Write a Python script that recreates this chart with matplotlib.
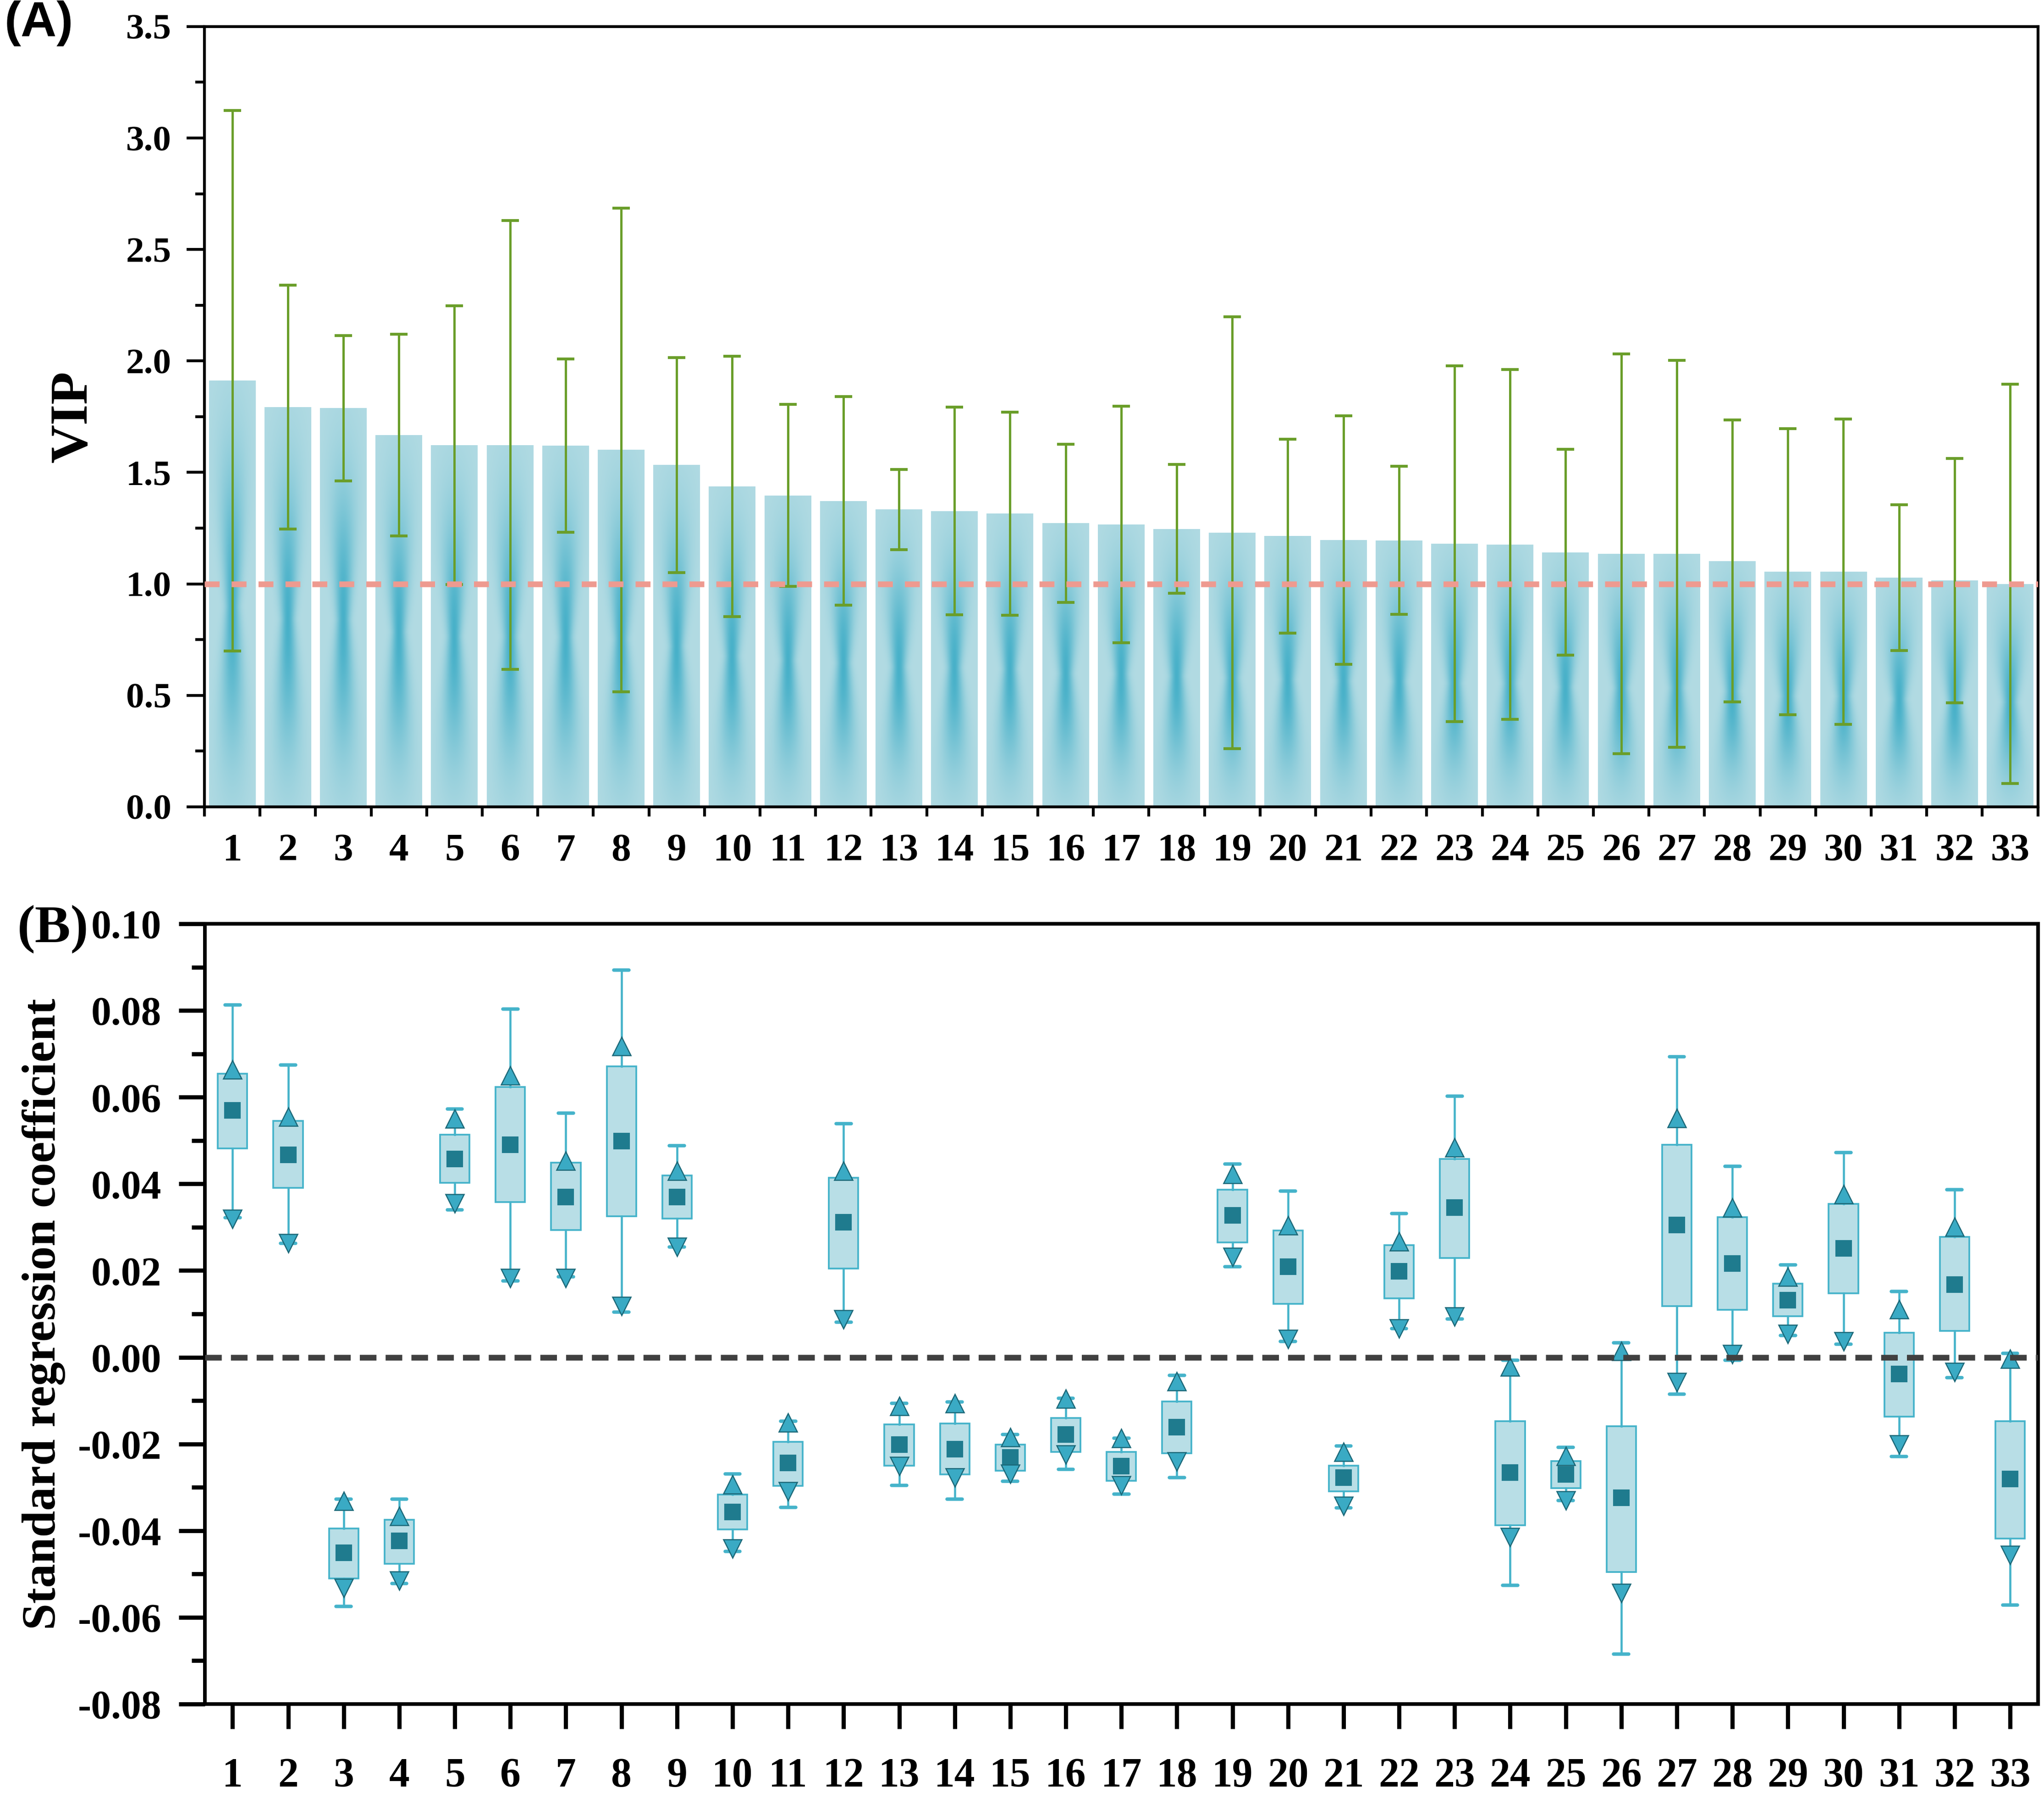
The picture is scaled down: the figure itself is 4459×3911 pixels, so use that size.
import numpy as np
import matplotlib
matplotlib.use("Agg")
from matplotlib import pyplot as plt
from matplotlib.ticker import FormatStrFormatter, MultipleLocator

plt.rcParams['font.family'] = ['Liberation Serif', 'DejaVu Serif']
plt.rcParams['font.weight'] = 'bold'
plt.rcParams['axes.unicode_minus'] = False

# ---------------- data ----------------
var_id = np.arange(1, 34)

# (A) VIP mean and sd
vip = [1.912, 1.793, 1.788, 1.668, 1.623, 1.623, 1.620, 1.601, 1.533, 1.437, 1.397,
       1.372, 1.334, 1.327, 1.315, 1.272, 1.267, 1.247, 1.230, 1.215, 1.197, 1.195,
       1.180, 1.177, 1.142, 1.135, 1.135, 1.103, 1.055, 1.055, 1.028, 1.015, 1.000]
vip_sd = [1.212, 0.546, 0.326, 0.452, 0.625, 1.006, 0.388, 1.084, 0.482, 0.584, 0.409,
          0.468, 0.180, 0.466, 0.455, 0.354, 0.531, 0.289, 0.968, 0.435, 0.557, 0.332,
          0.798, 0.785, 0.461, 0.896, 0.868, 0.633, 0.641, 0.685, 0.326, 0.548, 0.896]

# (B) standard regression coefficient distribution
whis_hi = [0.0813, 0.0674, -0.0327, -0.0327, 0.0573, 0.0803, 0.0563, 0.0893, 0.0488, -0.0269, -0.0147,
           0.0539, -0.0106, -0.0103, -0.0178, -0.0095, -0.0187, -0.0042, 0.0446, 0.0383, -0.0205, 0.0332,
           0.0602, -0.0007, -0.0208, 0.0033, 0.0693, 0.0440, 0.0213, 0.0472, 0.0152, 0.0387, 0.0009]
p99 = [0.0664, 0.0555, -0.0332, -0.0366, 0.0550, 0.0650, 0.0453, 0.0718, 0.0430, -0.0293, -0.0151,
       0.0430, -0.0113, -0.0106, -0.0184, -0.0096, -0.0187, -0.0056, 0.0423, 0.0304, -0.0218, 0.0267,
       0.0484, -0.0022, -0.0228, 0.0014, 0.0552, 0.0345, 0.0186, 0.0376, 0.0111, 0.0301, -0.0004]
q3 = [0.0654, 0.0545, -0.0395, -0.0375, 0.0513, 0.0623, 0.0449, 0.0671, 0.0419, -0.0317, -0.0195,
      0.0414, -0.0155, -0.0153, -0.0201, -0.0140, -0.0218, -0.0102, 0.0387, 0.0292, -0.0250, 0.0259,
      0.0457, -0.0147, -0.0239, -0.0159, 0.0490, 0.0323, 0.0170, 0.0354, 0.0057, 0.0278, -0.0147]
coef_mean = [0.0569, 0.0467, -0.0451, -0.0424, 0.0457, 0.0490, 0.0370, 0.0499, 0.0370, -0.0357, -0.0244,
             0.0311, -0.0201, -0.0212, -0.0231, -0.0178, -0.0251, -0.0161, 0.0327, 0.0209, -0.0278, 0.0198,
             0.0345, -0.0266, -0.0270, -0.0324, 0.0305, 0.0216, 0.0132, 0.0251, -0.0039, 0.0168, -0.0281]
q1 = [0.0482, 0.0391, -0.0510, -0.0476, 0.0402, 0.0358, 0.0294, 0.0325, 0.0320, -0.0397, -0.0297,
      0.0205, -0.0250, -0.0270, -0.0262, -0.0218, -0.0285, -0.0222, 0.0265, 0.0123, -0.0309, 0.0136,
      0.0229, -0.0388, -0.0302, -0.0495, 0.0118, 0.0109, 0.0095, 0.0148, -0.0137, 0.0061, -0.0418]
p1 = [0.0319, 0.0263, -0.0532, -0.0515, 0.0355, 0.0182, 0.0182, 0.0118, 0.0254, -0.0442, -0.0309,
      0.0087, -0.0251, -0.0278, -0.0269, -0.0225, -0.0296, -0.0241, 0.0231, 0.0042, -0.0343, 0.0066,
      0.0094, -0.0415, -0.0330, -0.0544, -0.0058, 0.0007, 0.0053, 0.0037, -0.0201, -0.0034, -0.0456]
whis_lo = [0.0322, 0.0263, -0.0575, -0.0522, 0.0340, 0.0176, 0.0186, 0.0104, 0.0254, -0.0448, -0.0346,
           0.0081, -0.0296, -0.0327, -0.0286, -0.0259, -0.0316, -0.0278, 0.0209, 0.0037, -0.0347, 0.0066,
           0.0088, -0.0526, -0.0330, -0.0685, -0.0085, -0.0007, 0.0050, 0.0030, -0.0229, -0.0047, -0.0572]

# 颜色
bar_base = np.array([0xb2, 0xdb, 0xe3]) / 255
bar_dark = np.array([0x3c, 0xac, 0xc6]) / 255
err_col = "#6a9e2a"
pink = "#ee9a90"
box_face = "#b8dee6"
box_edge = "#45b3ca"
mean_col = "#1f7b8e"
tri_face = "#3aaac4"
tri_edge = "#1b6878"


def bar_gradient(nx=60, ny=240):
    # 沙漏形渐变: 中间深, 上下和两侧浅
    u = np.linspace(-1, 1, nx)[None, :]
    t = np.linspace(0, 1, ny)[:, None]
    sigma = 0.2 + 0.8 * np.abs(t - 0.47)
    env = np.exp(-((t - 0.47) / 0.33) ** 2)
    w = 0.9 * np.exp(-0.5 * (u / sigma) ** 2) * env
    img = bar_base[None, None, :] * (1 - w[..., None]) + bar_dark[None, None, :] * w[..., None]
    return img


fig = plt.figure(figsize=(4459 / 300, 3911 / 300), dpi=300)
axA = fig.add_axes([0.100, 0.550, 0.897, 0.4352])
axB = fig.add_axes([0.1002, 0.0496, 0.8968, 0.4352])

#%% (A) VIP
bw = 0.84
grad = bar_gradient()
bars = axA.bar(var_id, vip, width=bw, color=bar_base, zorder=1)
for b in bars:
    x0, h = b.get_x(), b.get_height()
    im = axA.imshow(grad, extent=(x0, x0 + b.get_width(), 0, h), origin="lower",
                    aspect="auto", interpolation="bilinear", zorder=1.5)
    im.set_clip_path(b)
axA.errorbar(var_id, vip, yerr=vip_sd, fmt="none", ecolor=err_col, elinewidth=1.2,
             capsize=4.6, capthick=1.5, zorder=3)
axA.axhline(1.0, color=pink, lw=3.0, dashes=(2.6, 2.1), zorder=4)

axA.set_xlim(0.5, 33.5)
axA.set_ylim(0, 3.5)
axA.set_xticks(var_id)
axA.set_xticks(np.arange(0.5, 34, 1), minor=True)
axA.tick_params(axis="x", which="major", length=0, pad=14, labelsize=20.5)
axA.tick_params(axis="x", which="minor", length=5, width=1.5, direction="out")
axA.yaxis.set_major_locator(MultipleLocator(0.5))
axA.yaxis.set_minor_locator(MultipleLocator(0.25))
axA.yaxis.set_major_formatter(FormatStrFormatter("%.1f"))
axA.tick_params(axis="y", which="major", length=9.4, width=1.5, pad=8, labelsize=19)
axA.tick_params(axis="y", which="minor", length=4.8, width=1.5)
for s in axA.spines.values():
    s.set_linewidth(1.5)
axA.set_ylabel("VIP", fontsize=28, fontweight="bold")
axA.yaxis.set_label_coords(-0.058, 0.5)

#%% (B) 标准回归系数
stats = []
for i in range(len(var_id)):
    stats.append(dict(med=coef_mean[i], q1=q1[i], q3=q3[i], whislo=whis_lo[i],
                      whishi=whis_hi[i], mean=coef_mean[i], fliers=[]))
axB.bxp(stats, positions=var_id, widths=0.53, patch_artist=True, showmeans=True,
        boxprops=dict(facecolor=box_face, edgecolor=box_edge, linewidth=0.9),
        whiskerprops=dict(color=box_edge, linewidth=1.1),
        capprops=dict(color=box_edge, linewidth=1.8, solid_capstyle="round"),
        capwidths=0.27,
        medianprops=dict(visible=False),
        meanprops=dict(marker="s", markersize=7.5, markerfacecolor=mean_col,
                       markeredgecolor=mean_col),
        zorder=2)
axB.plot(var_id, p99, ls="none", marker="^", ms=9.5, mfc=tri_face, mec=tri_edge, mew=0.6, zorder=3)
axB.plot(var_id, p1, ls="none", marker="v", ms=9.5, mfc=tri_face, mec=tri_edge, mew=0.6, zorder=3)
axB.axhline(0, color="#404040", lw=3, dashes=(2.9, 1.6), zorder=4)

axB.set_xlim(0.5, 33.5)
axB.set_ylim(-0.08, 0.10)
axB.set_xticks(var_id)
axB.set_xticklabels([str(v) for v in var_id])
axB.tick_params(axis="x", which="major", length=13, width=2.2, pad=15, labelsize=21.5)
axB.yaxis.set_major_locator(MultipleLocator(0.02))
axB.yaxis.set_minor_locator(MultipleLocator(0.01))
axB.yaxis.set_major_formatter(FormatStrFormatter("%.2f"))
axB.tick_params(axis="y", which="major", length=13.7, width=2.2, pad=9, labelsize=21)
axB.tick_params(axis="y", which="minor", length=7, width=2.2)
for s in axB.spines.values():
    s.set_linewidth(1.9)
axB.set_ylabel("Standard regression coefficient", fontsize=25, fontweight="bold")
axB.yaxis.set_label_coords(-0.076, 0.5)

fig.text(0.019, 0.987, "(A)", fontsize=26, fontweight="bold", family=["Liberation Sans", "DejaVu Sans"],
         ha="center", va="center")
fig.text(0.026, 0.482, "(B)", fontsize=28, fontweight="bold", ha="center", va="center")

fig.savefig("out.png", dpi=300)
